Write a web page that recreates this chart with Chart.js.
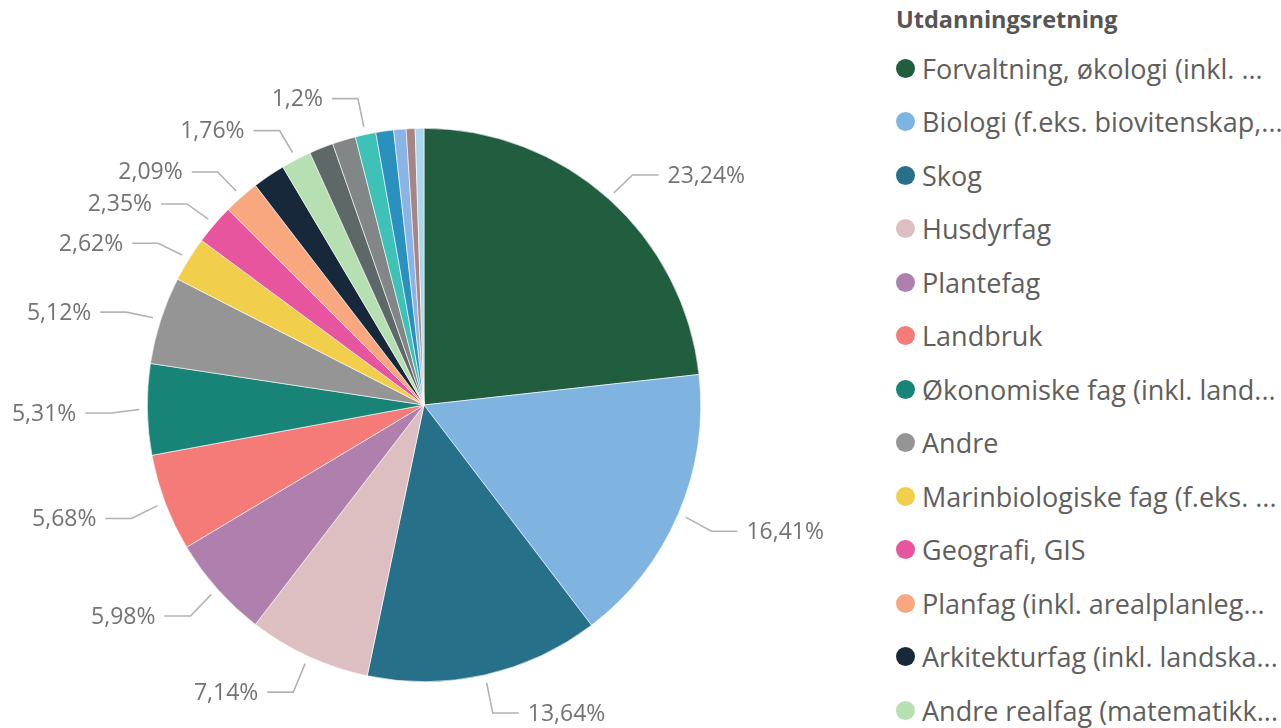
<!DOCTYPE html>
<html>
<head>
<meta charset="utf-8">
<script src="https://cdn.jsdelivr.net/npm/chart.js@4.4.1/dist/chart.umd.min.js"></script>
<style>
  html,body{margin:0;padding:0;background:#fff;width:1281px;height:728px;overflow:hidden;}
  #wrap{position:absolute;left:0;top:0;width:880px;height:728px;}
  #legend{position:absolute;left:896px;top:0;width:385px;height:728px;font-family:"Open Sans",sans-serif;color:#605E5C;overflow:hidden;}
  .ttl{position:absolute;left:0;top:3px;font-size:23.5px;font-weight:700;color:#555;white-space:nowrap;}
  .item{position:absolute;left:0;height:30px;display:flex;align-items:center;white-space:nowrap;font-size:27px;}
  .dot{width:19px;height:19px;border-radius:50%;margin-right:7px;flex:none;}
</style>
</head>
<body>
<div id="wrap"><canvas id="c"></canvas></div>
<div id="legend"></div>
<script>
const legendTitle = "Utdanningsretning";
const categories = [
  "Forvaltning, økologi (inkl. ...",
  "Biologi (f.eks. biovitenskap,...",
  "Skog",
  "Husdyrfag",
  "Plantefag",
  "Landbruk",
  "Økonomiske fag (inkl. land...",
  "Andre",
  "Marinbiologiske fag (f.eks. ...",
  "Geografi, GIS",
  "Planfag (inkl. arealplanleg...",
  "Arkitekturfag (inkl. landska...",
  "Andre realfag (matematikk...",
  "Kategori 14",
  "Kategori 15",
  "Kategori 16",
  "Kategori 17",
  "Kategori 18",
  "Kategori 19",
  "Kategori 20"
];
const values = [23.24,16.41,13.64,7.14,5.98,5.68,5.31,5.12,2.62,2.35,2.09,1.9,1.76,1.41,1.36,1.2,1.04,0.72,0.52,0.51];
const colors = ["#205E3F","#80B4E0","#27708A","#DDBFC1","#AF80AD","#F47B78","#188478","#959595","#F2CF4B","#E8559F","#F9A77F","#16283A","#B6E0B1","#5F6868","#838687","#3EC1B6","#2A90BE","#8AB3E6","#A88585","#A8D8EE"];
const labeled = [true,true,true,true,true,true,true,true,true,true,true,false,true,false,false,true,false,false,false,false];
const legendCount = 13;

function fmt(v){ return String(v).replace('.', ',') + '%'; }

// Legend
const lg = document.getElementById('legend');
const t = document.createElement('div'); t.className='ttl'; t.textContent = legendTitle; lg.appendChild(t);
for (let i=0;i<legendCount;i++){
  const it = document.createElement('div'); it.className='item';
  it.style.top = (53 + i*53.5) + 'px';
  const d = document.createElement('span'); d.className='dot'; d.style.background = colors[i];
  const s = document.createElement('span'); s.textContent = categories[i];
  it.appendChild(d); it.appendChild(s); lg.appendChild(it);
}

const leaderPlugin = {
  id:'leaders',
  afterDatasetsDraw(chart){
    const ctx = chart.ctx;
    const meta = chart.getDatasetMeta(0);
    const ds = chart.data.datasets[0];
    const left=[], right=[];
    meta.data.forEach((arc,i)=>{
      if(!labeled[i]) return;
      const mid=(arc.startAngle+arc.endAngle)/2;
      const r=arc.outerRadius, cx=arc.x, cy=arc.y;
      const o = {
        i, cos:Math.cos(mid), sin:Math.sin(mid),
        sx: cx+(r+8)*Math.cos(mid), sy: cy+(r+8)*Math.sin(mid),
        ex: cx+(r+36)*Math.cos(mid), ey: cy+(r+36)*Math.sin(mid)+3
      };
      o.y=o.ey;
      (o.cos>=0?right:left).push(o);
    });
    const gap=32;
    left.sort((a,b)=>b.y-a.y);
    for(let k=1;k<left.length;k++){ if(left[k].y>left[k-1].y-gap) left[k].y=left[k-1].y-gap; }
    right.sort((a,b)=>a.y-b.y);
    for(let k=1;k<right.length;k++){ if(right[k].y<right[k-1].y+gap) right[k].y=right[k-1].y+gap; }
    ctx.save();
    ctx.font = '23px "Open Sans", sans-serif';
    ctx.textBaseline='middle';
    const draw=(o,side)=>{
      const hx = o.ex + side*26;
      ctx.strokeStyle='#b3b3b3'; ctx.lineWidth=1.6;
      ctx.beginPath(); ctx.moveTo(o.sx,o.sy); ctx.lineTo(o.ex,o.y); ctx.lineTo(hx,o.y); ctx.stroke();
      ctx.fillStyle='#737373';
      ctx.textAlign = side>0?'left':'right';
      ctx.fillText(fmt(ds.data[o.i]), hx + side*9, o.y+1);
    };
    left.forEach(o=>draw(o,-1));
    right.forEach(o=>draw(o,1));
    ctx.restore();
  }
};

new Chart(document.getElementById('c'), {
  type:'pie',
  data:{ labels: categories, datasets:[{ data: values, backgroundColor: colors, borderColor:'#ffffff', borderWidth:0.6 }] },
  options:{
    responsive:true, maintainAspectRatio:false, animation:false,
    layout:{ padding:{ left:147, right:179, top:128, bottom:46 } },
    plugins:{ legend:{display:false}, tooltip:{enabled:false} }
  },
  plugins:[leaderPlugin]
});
</script>
</body>
</html>
